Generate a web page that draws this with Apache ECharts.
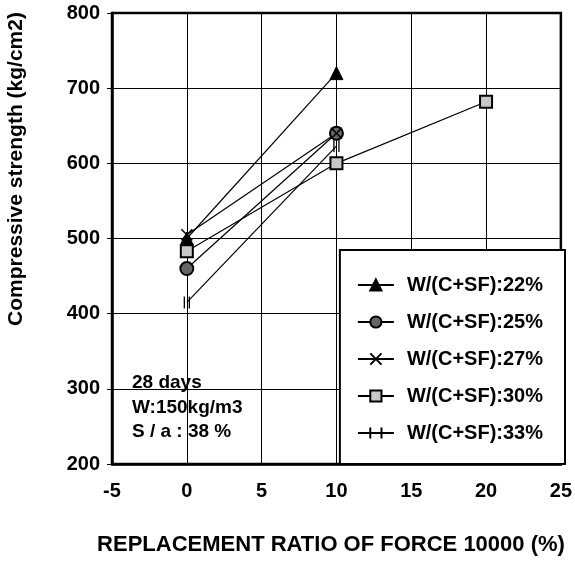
<!DOCTYPE html>
<html>
<head>
<meta charset="utf-8" />
<title>Compressive strength</title>
<script src="https://cdn.jsdelivr.net/npm/echarts@6/dist/echarts.min.js"></script>
<style>
  html, body { margin: 0; padding: 0; background: #fff; }
  #chart { width: 575px; height: 562px; }
</style>
</head>
<body>
<div id="chart"></div>
<script>
// replacement ratio (%) where measurements exist
const ratio = [0, 10, 20];
// compressive strength (kg/cm2) per W/(C+SF)
const names = ["W/(C+SF):22%", "W/(C+SF):25%", "W/(C+SF):27%", "W/(C+SF):30%", "W/(C+SF):33%"];
const w22 = [500, 720];
const w25 = [460, 640];
const w27 = [505, 640];
const w30 = [483, 600, 682];
const w33 = [415, 623];
const xTicks = [-5, 0, 5, 10, 15, 20, 25];
const yTicks = [200, 300, 400, 500, 600, 700, 800];
const notes = ["28 days", "W:150kg/m3", "S / a : 38 %"];

const FONT = "Liberation Sans";
const toPoints = vals => vals.map((v, i) => [ratio[i], v]);

const marks = [
  { symbol: "triangle", size: 13, fill: "#000", bw: 1 },
  { symbol: "circle", size: 13, fill: "#666", bw: 2 },
  { symbol: "path://M0,0L10,10M10,0L0,10", size: 11, fill: "#000", bw: 1.5 },
  { symbol: "rect", size: 12, fill: "#c8c8c8", bw: 2 },
  { symbol: "path://M0,0L0,10M4,0L4,10", size: [5, 12], fill: "#000", bw: 2 }
];

const chart = echarts.init(document.getElementById("chart"));

const series = [w22, w25, w27, w30, w33].map((vals, i) => {
  return {
    name: names[i],
    type: "line",
    data: toPoints(vals),
    symbol: marks[i].symbol,
    symbolSize: marks[i].size,
    showAllSymbol: true,
    lineStyle: { color: "#000", width: 1.2 },
    itemStyle: {
      color: marks[i].fill,
      borderColor: "#000",
      borderWidth: marks[i].bw
    },
    emphasis: { disabled: true },
    z: 3
  };
});

const option = {
  animation: false,
  backgroundColor: "#fff",
  grid: {
    left: 112,
    right: 10,
    top: 13,
    bottom: 98,
    show: true,
    borderColor: "#000",
    borderWidth: 2.5
  },
  xAxis: {
    type: "value",
    min: xTicks[0],
    max: xTicks[xTicks.length - 1],
    interval: 5,
    axisLine: { show: true, onZero: false, lineStyle: { color: "#000", width: 2.5 } },
    axisTick: { show: false },
    splitLine: { show: true, lineStyle: { color: "#000", width: 1 } },
    axisLabel: {
      color: "#000",
      fontFamily: FONT,
      fontWeight: "bold",
      fontSize: 20,
      margin: 17
    }
  },
  yAxis: {
    type: "value",
    min: yTicks[0],
    max: yTicks[yTicks.length - 1],
    interval: 100,
    axisLine: { show: true, onZero: false, lineStyle: { color: "#000", width: 2.5 } },
    axisTick: { show: true, inside: false, length: 5, lineStyle: { color: "#000", width: 1 } },
    splitLine: { show: true, lineStyle: { color: "#000", width: 1 } },
    axisLabel: {
      color: "#000",
      fontFamily: FONT,
      fontWeight: "bold",
      fontSize: 20,
      margin: 12
    }
  },
  legend: {
    data: names,
    orient: "vertical",
    right: 10,
    bottom: 98,
    backgroundColor: "#fff",
    borderColor: "#000",
    borderWidth: 2,
    padding: [25, 22, 21, 17],
    itemGap: 17,
    itemWidth: 36,
    itemHeight: 14,
    selectedMode: false,
    textStyle: {
      color: "#000",
      fontFamily: FONT,
      fontWeight: "bold",
      fontSize: 20,
      padding: [0, 0, 0, 8]
    }
  },
  graphic: [
    {
      type: "text",
      x: 16,
      y: 169,
      rotation: Math.PI / 2,
      style: {
        text: "Compressive strength (kg/cm2)",
        font: "bold 21px '" + FONT + "'",
        fill: "#000",
        align: "center",
        verticalAlign: "middle"
      }
    },
    {
      type: "text",
      x: 331,
      y: 545,
      style: {
        text: "REPLACEMENT RATIO OF FORCE 10000 (%)",
        font: "bold 22px '" + FONT + "'",
        fill: "#000",
        align: "center",
        verticalAlign: "middle"
      }
    }
  ].concat(
    notes.map((t, i) => ({
      type: "text",
      x: 132,
      y: 383 + i * 24.5,
      z: 10,
      style: {
        text: t,
        font: "bold 19px '" + FONT + "'",
        fill: "#000",
        align: "left",
        verticalAlign: "middle"
      }
    }))
  ),
  series: series
};

chart.setOption(option);
</script>
</body>
</html>
